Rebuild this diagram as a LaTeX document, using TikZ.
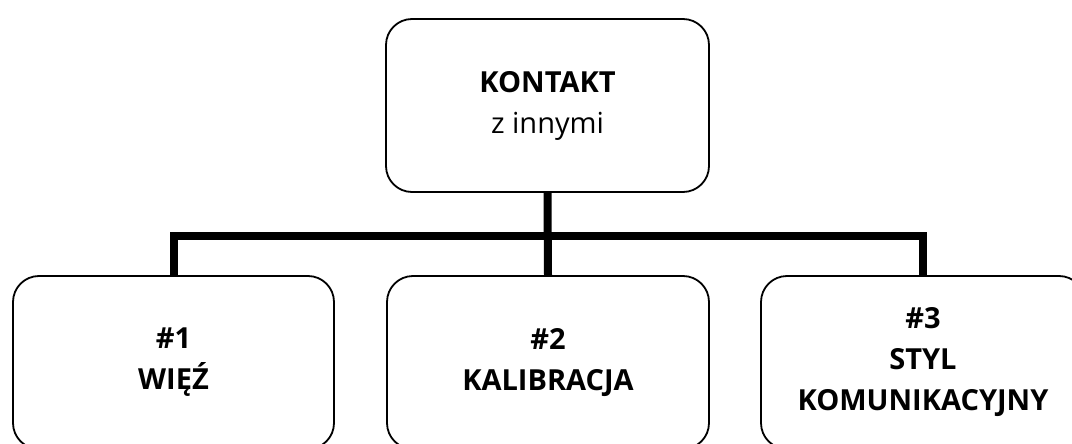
\documentclass[tikz,border=0pt]{standalone}
\usepackage{fontspec}
\setmainfont{Open Sans}
\begin{document}
\begin{tikzpicture}[x=1pt,y=-1pt,
  boxstyle/.style={draw=black, line width=1.8pt, rounded corners=26pt, fill=white,
    align=center, inner sep=0pt, font=\fontsize{29}{41}\selectfont},
  conn/.style={draw=black, line width=8pt, line join=miter, line cap=butt}]
\useasboundingbox (0,0) rectangle (1072,444);
\clip (0,0) rectangle (1072,444);
\fill[white] (0,0) rectangle (1072,444);
\coordinate (barL) at (173,236);
\coordinate (barR) at (922,236);
\node[boxstyle, minimum width=323pt, minimum height=173pt] (top) at (547.5,105.5)
  {\textbf{KONTAKT}\\z innymi};
\node[boxstyle, minimum width=321pt, minimum height=173pt] (b1) at (173.5,362.5)
  {\textbf{\#1}\\\textbf{WIĘŹ}};
\node[boxstyle, minimum width=322pt, minimum height=173pt] (b2) at (548,362.5)
  {\textbf{\#2}\\\textbf{KALIBRACJA}};
\node[boxstyle, minimum width=324pt, minimum height=173pt] (b3) at (923,362.5)
  {\textbf{\#3}\\\textbf{STYL}\\\textbf{KOMUNIKACYJNY}};
\draw[conn] (top.south) -- (b2.north);
\draw[conn] (b1.north) -- (b1.north |- barL) -- (b3.north |- barR) -- (b3.north);
\end{tikzpicture}
\end{document}
